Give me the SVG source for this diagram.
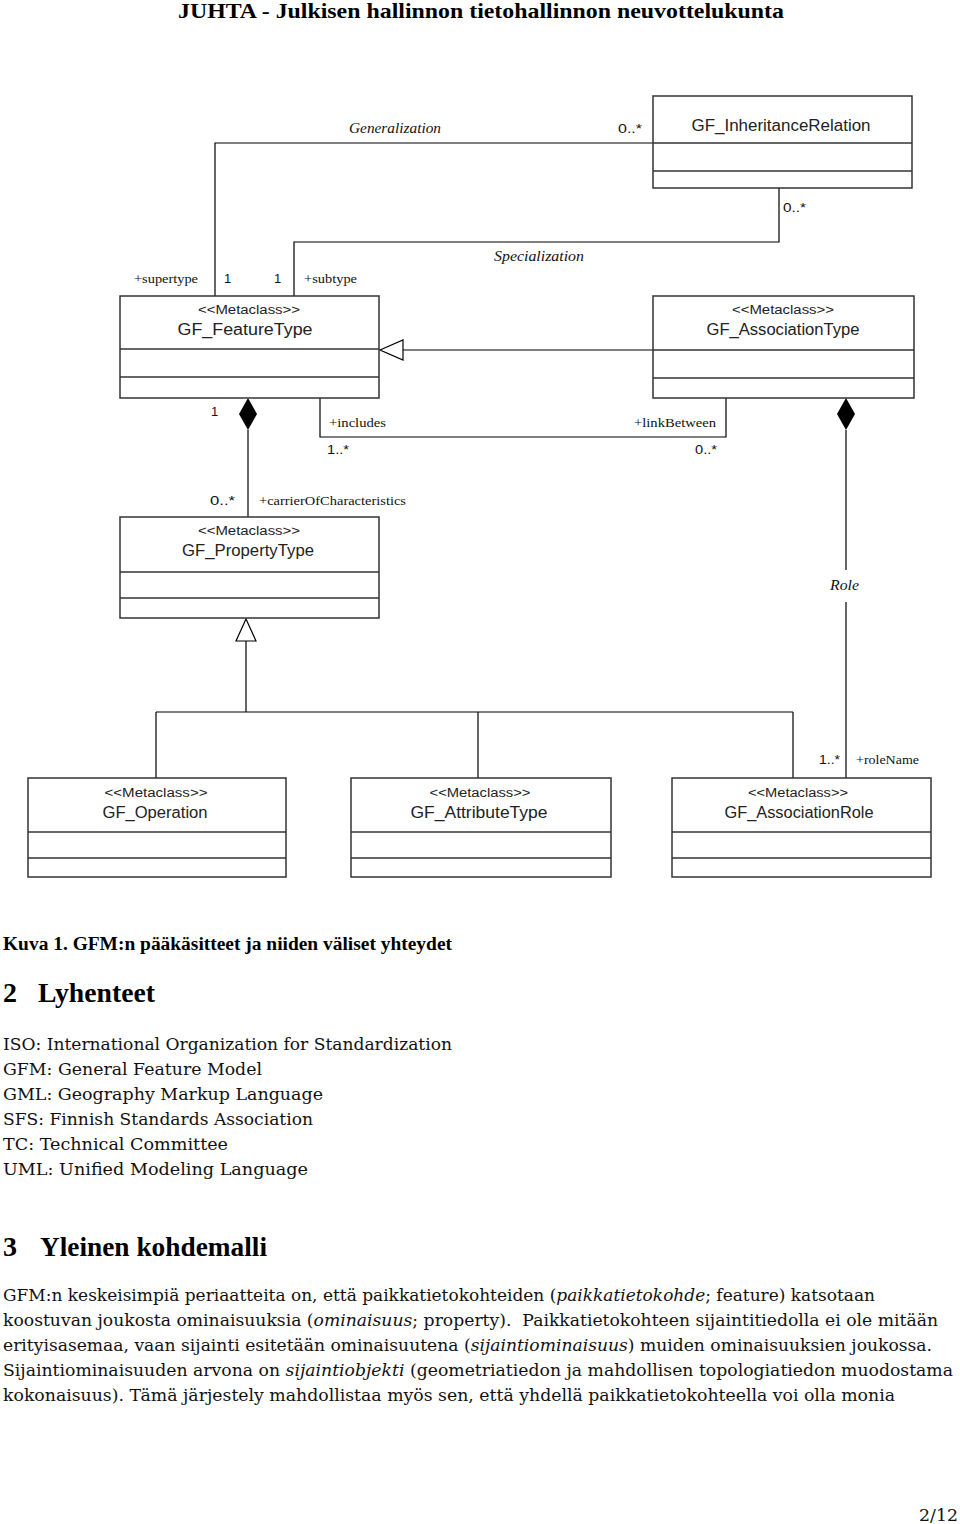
<svg xmlns="http://www.w3.org/2000/svg" width="960" height="1524" viewBox="0 0 960 1524">
<style>
.bg{fill:#fff}
.box{fill:#fff;stroke:#333;stroke-width:1.5}
.div{stroke:#333;stroke-width:1.5}
.ln{stroke:#000;stroke-width:1.2;fill:none}
.cls{font-family:"Liberation Sans",Arial,sans-serif;font-size:16px;text-anchor:middle;fill:#222}
.st{font-family:"Liberation Sans",Arial,sans-serif;font-size:12px;text-anchor:middle;fill:#222}
.lbl{font-family:"Liberation Serif","Times New Roman",serif;font-size:12px;fill:#111}
.mul{font-family:"Liberation Sans",Arial,sans-serif;font-size:13px;fill:#111}
.it{font-family:"Liberation Serif","Times New Roman",serif;font-size:14px;font-style:italic;fill:#111}
.hd{font-family:"Liberation Serif","Times New Roman",serif;font-weight:bold;fill:#000}
.body{font-family:"DejaVu Serif",serif;font-size:16.5px;fill:#111}
.i{font-style:italic}
</style>
<rect class="bg" x="0" y="0" width="960" height="1524"/>

<text class="hd" x="178" y="18" font-size="22" textLength="606" lengthAdjust="spacingAndGlyphs">JUHTA - Julkisen hallinnon tietohallinnon neuvottelukunta</text>

<g id="connectors">
  <polyline class="ln" points="653,143 215,143 215,296"/>
  <polyline class="ln" points="779,188 779,242 294,242 294,296"/>
  <line class="ln" x1="403" y1="350" x2="653" y2="350"/>
  <polygon points="380,350 403,340 403,360" fill="#fff" stroke="#000" stroke-width="1.2"/>
  <polyline class="ln" points="320,398 320,437 726,437 726,398"/>
  <polygon points="248,398 257,414 248,430 239,414" fill="#000"/>
  <line class="ln" x1="248" y1="430" x2="248" y2="517"/>
  <polygon points="846,398 855,414 846,430 837,414" fill="#000"/>
  <line class="ln" x1="846" y1="430" x2="846" y2="570"/>
  <line class="ln" x1="846" y1="602" x2="846" y2="778"/>
  <polygon points="246,619 236,641 256,641" fill="#fff" stroke="#000" stroke-width="1.2"/>
  <line class="ln" x1="246" y1="641" x2="246" y2="712"/>
  <line class="ln" x1="156" y1="712" x2="793" y2="712"/>
  <line class="ln" x1="156" y1="712" x2="156" y2="778"/>
  <line class="ln" x1="478" y1="712" x2="478" y2="778"/>
  <line class="ln" x1="793" y1="712" x2="793" y2="778"/>

  <text class="it" x="349" y="133" textLength="92" lengthAdjust="spacingAndGlyphs">Generalization</text>
  <text class="mul" x="618" y="133" textLength="24" lengthAdjust="spacingAndGlyphs">0..*</text>
  <text class="mul" x="783" y="212" textLength="23" lengthAdjust="spacingAndGlyphs">0..*</text>
  <text class="it" x="494" y="261" textLength="90" lengthAdjust="spacingAndGlyphs">Specialization</text>
  <text class="lbl" x="134" y="283" textLength="64" lengthAdjust="spacingAndGlyphs">+supertype</text>
  <text class="mul" x="224" y="283">1</text>
  <text class="mul" x="274" y="283">1</text>
  <text class="lbl" x="304" y="283" textLength="53" lengthAdjust="spacingAndGlyphs">+subtype</text>
  <text class="mul" x="211" y="416">1</text>
  <text class="lbl" x="329" y="427" textLength="57" lengthAdjust="spacingAndGlyphs">+includes</text>
  <text class="lbl" x="634" y="427" textLength="82" lengthAdjust="spacingAndGlyphs">+linkBetween</text>
  <text class="mul" x="327" y="454" textLength="22" lengthAdjust="spacingAndGlyphs">1..*</text>
  <text class="mul" x="695" y="454" textLength="22" lengthAdjust="spacingAndGlyphs">0..*</text>
  <text class="mul" x="210" y="505" textLength="25" lengthAdjust="spacingAndGlyphs">0..*</text>
  <text class="lbl" x="259" y="505" textLength="147" lengthAdjust="spacingAndGlyphs">+carrierOfCharacteristics</text>
  <text class="it" x="830" y="590" textLength="29" lengthAdjust="spacingAndGlyphs">Role</text>
  <text class="mul" x="819" y="764" textLength="21" lengthAdjust="spacingAndGlyphs">1..*</text>
  <text class="lbl" x="856" y="764" textLength="63" lengthAdjust="spacingAndGlyphs">+roleName</text>
</g>

<g id="GF_InheritanceRelation">
  <rect class="box" x="653" y="96" width="259" height="92"/>
  <line class="div" x1="653" y1="143" x2="912" y2="143"/>
  <line class="div" x1="653" y1="171" x2="912" y2="171"/>
  <text class="cls" x="781" y="131" textLength="179" lengthAdjust="spacingAndGlyphs">GF_InheritanceRelation</text>
</g>

<g id="GF_FeatureType">
  <rect class="box" x="120" y="296" width="259" height="102"/>
  <line class="div" x1="120" y1="349" x2="379" y2="349"/>
  <line class="div" x1="120" y1="377" x2="379" y2="377"/>
  <text class="st" x="249" y="314" textLength="102" lengthAdjust="spacingAndGlyphs">&lt;&lt;Metaclass&gt;&gt;</text>
  <text class="cls" x="245" y="335" textLength="135" lengthAdjust="spacingAndGlyphs">GF_FeatureType</text>
</g>

<g id="GF_AssociationType">
  <rect class="box" x="653" y="296" width="261" height="102"/>
  <line class="div" x1="653" y1="350" x2="914" y2="350"/>
  <line class="div" x1="653" y1="378" x2="914" y2="378"/>
  <text class="st" x="783" y="314" textLength="102" lengthAdjust="spacingAndGlyphs">&lt;&lt;Metaclass&gt;&gt;</text>
  <text class="cls" x="783" y="335" textLength="153" lengthAdjust="spacingAndGlyphs">GF_AssociationType</text>
</g>

<g id="GF_PropertyType">
  <rect class="box" x="120" y="517" width="259" height="101"/>
  <line class="div" x1="120" y1="572" x2="379" y2="572"/>
  <line class="div" x1="120" y1="598" x2="379" y2="598"/>
  <text class="st" x="249" y="535" textLength="102" lengthAdjust="spacingAndGlyphs">&lt;&lt;Metaclass&gt;&gt;</text>
  <text class="cls" x="248" y="556" textLength="132" lengthAdjust="spacingAndGlyphs">GF_PropertyType</text>
</g>

<g id="GF_Operation">
  <rect class="box" x="28" y="778" width="258" height="99"/>
  <line class="div" x1="28" y1="832" x2="286" y2="832"/>
  <line class="div" x1="28" y1="858" x2="286" y2="858"/>
  <text class="st" x="156" y="797" textLength="103" lengthAdjust="spacingAndGlyphs">&lt;&lt;Metaclass&gt;&gt;</text>
  <text class="cls" x="155" y="818" textLength="105" lengthAdjust="spacingAndGlyphs">GF_Operation</text>
</g>

<g id="GF_AttributeType">
  <rect class="box" x="351" y="778" width="260" height="99"/>
  <line class="div" x1="351" y1="832" x2="611" y2="832"/>
  <line class="div" x1="351" y1="858" x2="611" y2="858"/>
  <text class="st" x="480" y="797" textLength="101" lengthAdjust="spacingAndGlyphs">&lt;&lt;Metaclass&gt;&gt;</text>
  <text class="cls" x="479" y="818" textLength="137" lengthAdjust="spacingAndGlyphs">GF_AttributeType</text>
</g>

<g id="GF_AssociationRole">
  <rect class="box" x="672" y="778" width="259" height="99"/>
  <line class="div" x1="672" y1="832" x2="931" y2="832"/>
  <line class="div" x1="672" y1="858" x2="931" y2="858"/>
  <text class="st" x="798" y="797" textLength="100" lengthAdjust="spacingAndGlyphs">&lt;&lt;Metaclass&gt;&gt;</text>
  <text class="cls" x="799" y="818" textLength="149" lengthAdjust="spacingAndGlyphs">GF_AssociationRole</text>
</g>

<text class="hd" x="3" y="950" font-size="18" textLength="449" lengthAdjust="spacingAndGlyphs">Kuva 1. GFM:n pääkäsitteet ja niiden väliset yhteydet</text>

<text class="hd" x="3" y="1002" font-size="28">2</text>
<text class="hd" x="38" y="1002" font-size="28" textLength="117" lengthAdjust="spacingAndGlyphs">Lyhenteet</text>

<text class="body" x="3" y="1050" textLength="449" lengthAdjust="spacingAndGlyphs">ISO: International Organization for Standardization</text>
<text class="body" x="3" y="1075" textLength="259" lengthAdjust="spacingAndGlyphs">GFM: General Feature Model</text>
<text class="body" x="3" y="1100" textLength="320" lengthAdjust="spacingAndGlyphs">GML: Geography Markup Language</text>
<text class="body" x="3" y="1125" textLength="310" lengthAdjust="spacingAndGlyphs">SFS: Finnish Standards Association</text>
<text class="body" x="3" y="1150" textLength="225" lengthAdjust="spacingAndGlyphs">TC: Technical Committee</text>
<text class="body" x="3" y="1175" textLength="305" lengthAdjust="spacingAndGlyphs">UML: Unified Modeling Language</text>

<text class="hd" x="3" y="1256" font-size="28">3</text>
<text class="hd" x="40" y="1256" font-size="28" textLength="227" lengthAdjust="spacingAndGlyphs">Yleinen kohdemalli</text>

<text class="body" x="3" y="1301" textLength="872" lengthAdjust="spacingAndGlyphs">GFM:n keskeisimpiä periaatteita on, että paikkatietokohteiden (<tspan class="i">paikkatietokohde</tspan>; feature) katsotaan</text>
<text class="body" x="3" y="1326" textLength="935" lengthAdjust="spacingAndGlyphs" xml:space="preserve">koostuvan joukosta ominaisuuksia (<tspan class="i">ominaisuus</tspan>; property).  Paikkatietokohteen sijaintitiedolla ei ole mitään</text>
<text class="body" x="3" y="1351" textLength="929" lengthAdjust="spacingAndGlyphs">erityisasemaa, vaan sijainti esitetään ominaisuutena (<tspan class="i">sijaintiominaisuus</tspan>) muiden ominaisuuksien joukossa.</text>
<text class="body" x="3" y="1376" textLength="950" lengthAdjust="spacingAndGlyphs">Sijaintiominaisuuden arvona on <tspan class="i">sijaintiobjekti</tspan> (geometriatiedon ja mahdollisen topologiatiedon muodostama</text>
<text class="body" x="3" y="1401" textLength="892" lengthAdjust="spacingAndGlyphs">kokonaisuus). Tämä järjestely mahdollistaa myös sen, että yhdellä paikkatietokohteella voi olla monia</text>

<text class="body" x="919" y="1521" font-size="18" textLength="39" lengthAdjust="spacingAndGlyphs">2/12</text>
</svg>
